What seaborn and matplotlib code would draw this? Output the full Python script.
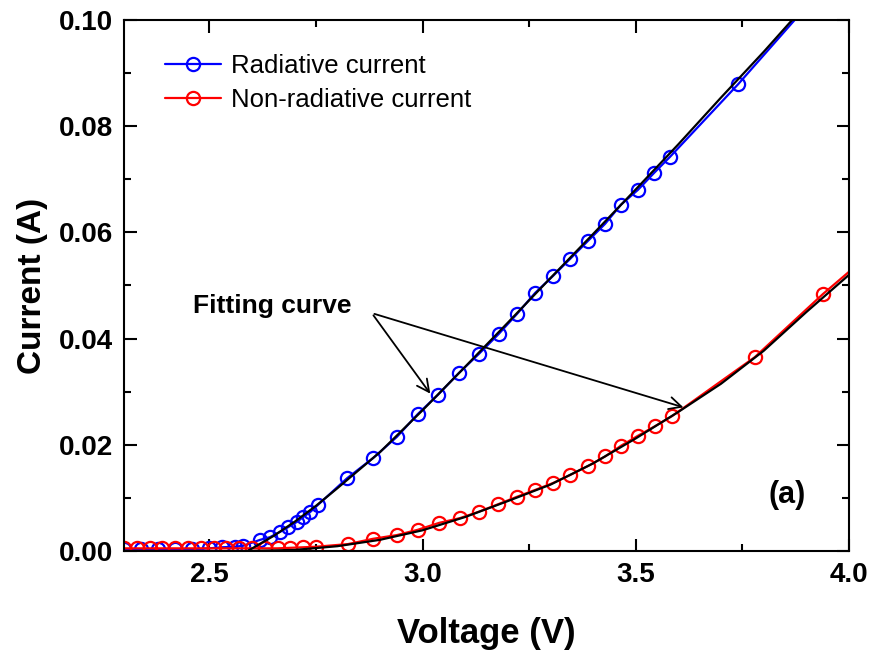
import seaborn as sns
import matplotlib.pyplot as plt
import pandas as pd
from matplotlib.ticker import MultipleLocator

# measured radiative current (blue)
v_rad = [2.30, 2.34, 2.38, 2.42, 2.46, 2.50, 2.53, 2.56, 2.58, 2.619, 2.642, 2.666, 2.685,
         2.706, 2.720, 2.736, 2.755, 2.823, 2.884, 2.940, 2.989, 3.036, 3.085, 3.132,
         3.179, 3.221, 3.264, 3.306, 3.346, 3.388, 3.428, 3.465, 3.505, 3.543, 3.580,
         3.740, 3.900]
i_rad = [0.0003, 0.0003, 0.0003, 0.0003, 0.0003, 0.0005, 0.0007, 0.0008, 0.0010, 0.0021,
         0.0026, 0.0036, 0.0045, 0.0055, 0.0064, 0.0073, 0.0087, 0.0137, 0.0175, 0.0215,
         0.0258, 0.0294, 0.0335, 0.0371, 0.0409, 0.0446, 0.0486, 0.0518, 0.0550, 0.0584,
         0.0616, 0.0652, 0.0680, 0.0712, 0.0742, 0.0879, 0.1025]

# measured non-radiative current (red)
v_nrad = [2.30, 2.33, 2.36, 2.39, 2.42, 2.45, 2.48, 2.51, 2.54, 2.57, 2.60, 2.63, 2.66,
          2.69, 2.72, 2.75, 2.825, 2.884, 2.940, 2.989, 3.039, 3.088, 3.132, 3.177,
          3.221, 3.264, 3.306, 3.346, 3.388, 3.428, 3.465, 3.505, 3.545, 3.585, 3.779,
          3.939, 4.050]
i_nrad = [0.0005, 0.0005, 0.0005, 0.0005, 0.0005, 0.0005, 0.0005, 0.0005, 0.0005, 0.0005,
          0.0005, 0.0005, 0.0005, 0.0006, 0.0007, 0.0008, 0.0013, 0.0023, 0.0030, 0.0040,
          0.0053, 0.0062, 0.0074, 0.0088, 0.0102, 0.0115, 0.0128, 0.0143, 0.0160, 0.0178,
          0.0198, 0.0217, 0.0235, 0.0254, 0.0365, 0.0484, 0.0560]

# fitting curves (black)
v_fit_rad = [2.59, 2.65, 2.70, 2.75, 2.80, 2.90, 3.00, 3.10, 3.20, 3.30, 3.40, 3.50, 3.60,
             3.70, 3.80, 3.90]
i_fit_rad = [0.0, 0.0028, 0.0055, 0.0085, 0.0118, 0.0186, 0.0265, 0.0347, 0.0430, 0.0514,
             0.0597, 0.0681, 0.0766, 0.0854, 0.0940, 0.1030]
v_fit_nrad = [2.60, 2.70, 2.80, 2.90, 3.00, 3.10, 3.20, 3.30, 3.40, 3.50, 3.60, 3.70, 3.80,
              3.90, 4.00]
i_fit_nrad = [0.0, 0.0002, 0.0009, 0.0021, 0.0039, 0.0064, 0.0094, 0.0125, 0.0165, 0.0212,
              0.0262, 0.0315, 0.0377, 0.0450, 0.0520]

df_rad = pd.DataFrame({'V': v_rad, 'I': i_rad})
df_nrad = pd.DataFrame({'V': v_nrad, 'I': i_nrad})
df_fr = pd.DataFrame({'V': v_fit_rad, 'I': i_fit_rad})
df_fn = pd.DataFrame({'V': v_fit_nrad, 'I': i_fit_nrad})

sns.set_style('ticks')
plt.rcParams['font.family'] = ['Liberation Sans', 'DejaVu Sans']
plt.rcParams.update({'text.color': 'black', 'axes.labelcolor': 'black',
                     'xtick.color': 'black', 'ytick.color': 'black',
                     'axes.edgecolor': 'black'})

fig = plt.figure(figsize=(8.74, 6.59), dpi=100)
ax = fig.add_axes([0.1419, 0.1639, 0.8295, 0.8058])

mk = dict(marker='o', markersize=9.5, markerfacecolor='none', markeredgewidth=1.6)
sns.lineplot(data=df_rad, x='V', y='I', sort=False, color='#0000ff', lw=1.6,
             label='Radiative current', ax=ax, markeredgecolor='#0000ff', **mk)
sns.lineplot(data=df_nrad, x='V', y='I', sort=False, color='#ff0000', lw=1.6,
             label='Non-radiative current', ax=ax, markeredgecolor='#ff0000', **mk)
sns.lineplot(data=df_fr, x='V', y='I', sort=False, color='black', lw=1.6, ax=ax)
sns.lineplot(data=df_fn, x='V', y='I', sort=False, color='black', lw=1.6, ax=ax)

ax.set_xlim(2.3, 4.0)
ax.set_ylim(0.0, 0.10)
ax.xaxis.set_major_locator(MultipleLocator(0.5))
ax.xaxis.set_minor_locator(MultipleLocator(0.25))
ax.yaxis.set_major_locator(MultipleLocator(0.02))
ax.yaxis.set_minor_locator(MultipleLocator(0.01))
ax.xaxis.set_major_formatter(plt.FormatStrFormatter('%.1f'))
ax.yaxis.set_major_formatter(plt.FormatStrFormatter('%.2f'))
ax.tick_params(which='both', direction='in', top=True, right=True, width=1.5)
ax.tick_params(which='major', length=9, labelsize=20, pad=8)
ax.tick_params(which='minor', length=5)
for lbl in ax.get_xticklabels() + ax.get_yticklabels():
    lbl.set_fontweight('bold')
for s in ax.spines.values():
    s.set_linewidth(1.5)

ax.set_xlabel('Voltage (V)', fontsize=25, fontweight='bold', labelpad=21)
ax.set_ylabel('Current (A)', fontsize=24, fontweight='bold', labelpad=8)

leg = ax.legend(loc='upper left', bbox_to_anchor=(0.025, 0.98), frameon=False,
                fontsize=18.5, handlelength=2.15, labelspacing=0.4, handletextpad=0.4)

ax.text(2.462, 0.0461, 'Fitting curve', fontsize=19, fontweight='bold',
        va='center', ha='left')
arrow = dict(arrowstyle='->', color='black', lw=1.3, mutation_scale=22)
ax.annotate('', xy=(3.022, 0.0292), xytext=(2.881, 0.0448), arrowprops=arrow)
ax.annotate('', xy=(3.618, 0.0269), xytext=(2.881, 0.0448), arrowprops=arrow)
ax.text(3.855, 0.0105, '(a)', fontsize=22, fontweight='bold', ha='center', va='center')

fig.savefig('out.png', dpi=100)
